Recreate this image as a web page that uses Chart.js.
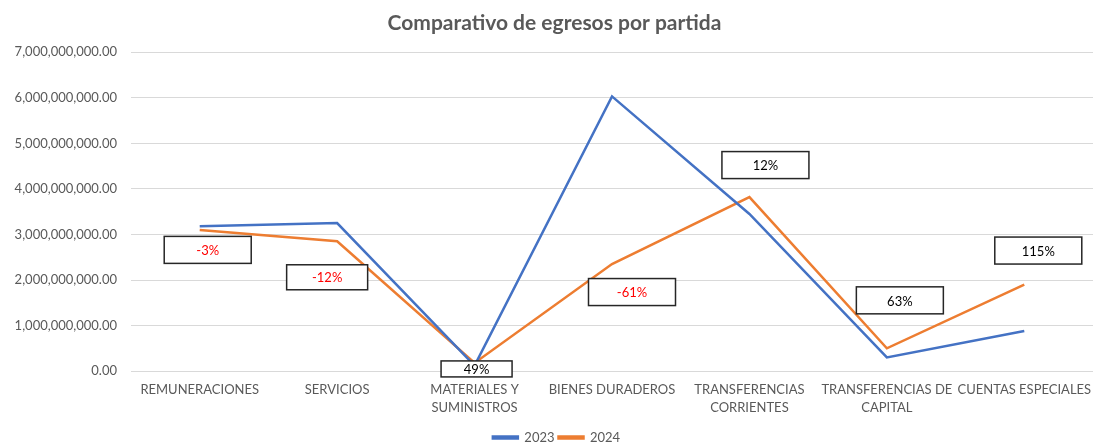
<!DOCTYPE html>
<html>
<head>
<meta charset="utf-8">
<script src="https://cdn.jsdelivr.net/npm/chart.js@4"></script>
<style>
    body { margin: 0; background: #fff; }
    #wrap { width: 1093px; height: 444px; }
</style>
</head>
<body>
<div id="wrap"><canvas id="egresos-chart"></canvas></div>
<script>
// Partidas (categories)
const partidas = [
    'REMUNERACIONES', 'SERVICIOS', ['MATERIALES Y', 'SUMINISTROS'], 'BIENES DURADEROS',
    ['TRANSFERENCIAS', 'CORRIENTES'], ['TRANSFERENCIAS DE', 'CAPITAL'], 'CUENTAS ESPECIALES'
];

// Egresos por año
const egresos2023 = [3180000000, 3250000000, 120000000, 6030000000, 3450000000, 300000000, 880000000];
const egresos2024 = [3100000000, 2850000000, 180000000, 2350000000, 3820000000, 500000000, 1900000000];

// Variación labels shown in the boxes
const variacion = ['-3%', '-12%', '49%', '-61%', '12%', '63%', '115%'];

const yTicks = [0, 1000000000, 2000000000, 3000000000, 4000000000, 5000000000, 6000000000, 7000000000];

const gray = '#595959';
const fontFamily = 'Lato, "Open Sans", sans-serif';

// box placement relative to the 2024 point: [dx, dy, width, height]
const boxLayout = [
    [8, 20, 87, 27],
    [-10, 36, 81, 25],
    [2, 6, 71, 16],
    [20, 28, 87, 27],
    [16, -32, 87, 27],
    [13, -48, 87, 27],
    [14, -34, 87, 27]
];

const variacionBoxes = {
    id: 'variacionBoxes',
    afterLayout(chart) {
        // title and legend sit a bit right of the canvas centre in the original
        chart.titleBlock.left += 16;
        chart.legend.left += 20;
    },
    afterDatasetsDraw(chart) {
        const ctx = chart.ctx;
        const xScale = chart.scales.x;
        const yScale = chart.scales.y;
        ctx.save();
        variacion.forEach((txt, i) => {
            const [dx, dy, w, h] = boxLayout[i];
            const cx = xScale.getPixelForValue(i) + dx;
            const cy = yScale.getPixelForValue(egresos2024[i]) + dy;
            ctx.fillStyle = '#ffffff';
            ctx.fillRect(cx - w / 2, cy - h / 2, w, h);
            ctx.strokeStyle = '#262626';
            ctx.lineWidth = 1.5;
            ctx.strokeRect(cx - w / 2, cy - h / 2, w, h);
            ctx.fillStyle = txt.startsWith('-') ? '#ff0000' : '#000000';
            ctx.font = '13px ' + fontFamily;
            ctx.textAlign = 'center';
            ctx.textBaseline = 'middle';
            ctx.fillText(txt, cx, cy + 1);
        });
        ctx.restore();
    }
};

const ctx = document.getElementById('egresos-chart');
new Chart(ctx, {
    type: 'line',
    data: {
        labels: partidas,
        datasets: [{
            label: '2023',
            data: egresos2023,
            borderColor: '#4472C4',
            backgroundColor: '#4472C4',
            borderWidth: 2.5,
            pointRadius: 0,
            tension: 0
        }, {
            label: '2024',
            data: egresos2024,
            borderColor: '#ED7D31',
            backgroundColor: '#ED7D31',
            borderWidth: 2.5,
            pointRadius: 0,
            tension: 0
        }]
    },
    options: {
        responsive: true,
        maintainAspectRatio: false,
        animation: false,
        layout: { padding: { top: 0, right: 0, bottom: -10, left: 0 } },
        scales: {
            x: {
                offset: true,
                afterFit(axis) {
                    // no extra room for the last label, let the grid reach the edge
                    axis.paddingLeft = 0;
                    axis.paddingRight = 0;
                },
                grid: { display: false, drawTicks: false, offset: true },
                border: { color: '#d9d9d9' },
                ticks: {
                    color: gray,
                    font: { family: fontFamily, size: 13, lineHeight: 1.38 },
                    maxRotation: 0,
                    autoSkip: false,
                    padding: 10
                }
            },
            y: {
                min: 0,
                max: 7000000000,
                afterBuildTicks(axis) {
                    axis.ticks = yTicks.map(v => ({ value: v }));
                },
                afterFit(axis) {
                    axis.width = 131;
                },
                grid: { color: '#d9d9d9', drawTicks: false },
                border: { display: false },
                ticks: {
                    color: gray,
                    font: { family: fontFamily, size: 13 },
                    padding: 14,
                    callback: v => v.toLocaleString('en-US', { minimumFractionDigits: 2, maximumFractionDigits: 2 })
                }
            }
        },
        plugins: {
            title: {
                display: true,
                text: 'Comparativo de egresos por partida',
                color: gray,
                font: { family: fontFamily, size: 21, weight: 'bold' },
                padding: { top: 11, bottom: 16 }
            },
            legend: {
                position: 'bottom',
                labels: {
                    color: gray,
                    font: { family: fontFamily, size: 13 },
                    boxWidth: 25,
                    boxHeight: 2,
                    padding: 4
                }
            },
            tooltip: { enabled: false }
        }
    },
    plugins: [variacionBoxes]
});
</script>
</body>
</html>
